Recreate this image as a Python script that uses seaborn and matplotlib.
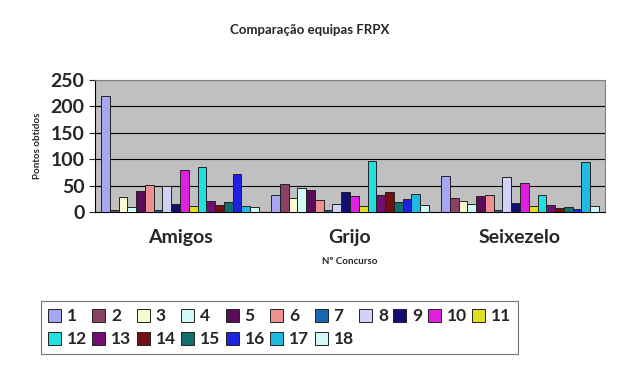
import pandas as pd
import seaborn as sns
import matplotlib.pyplot as plt

equipas = ["Amigos", "Grijo", "Seixezelo"]
concursos = [str(i) for i in range(1, 19)]

amigos = [220, 3, 28, 9, 40, 52, 3, 50, 15, 80, 12, 85, 21, 13, 18, 72, 12, 9]
grijo = [32, 53, 27, 46, 41, 23, 3, 16, 37, 30, 11, 97, 32, 37, 19, 25, 35, 13]
seixezelo = [69, 27, 20, 16, 30, 32, 4, 67, 17, 54, 11, 33, 13, 8, 9, 6, 95, 11]

cores = ["#9999FF", "#993366", "#FFFFCC", "#CCFFFF", "#660066", "#FF8080",
         "#0066CC", "#CCCCFF", "#000080", "#FF00FF", "#FFFF00", "#00FFFF",
         "#800080", "#800000", "#008080", "#0000FF", "#00CCFF", "#CCFFFF"]

rows = []
for equipa, valores in zip(equipas, [amigos, grijo, seixezelo]):
    for c, v in zip(concursos, valores):
        rows.append({"equipa": equipa, "concurso": c, "pontos": v})
df = pd.DataFrame(rows)

sns.set_style("white")
plt.rcParams["font.family"] = ["Lato", "DejaVu Sans"]

fig = plt.figure(figsize=(6.2, 3.73), dpi=100)
ax = fig.add_axes([95 / 620, 1 - 212 / 373, 510 / 620, 132 / 373])

sns.barplot(data=df, x="equipa", y="pontos", hue="concurso",
            palette=cores, width=0.93, edgecolor="#222222", linewidth=0.7,
            ax=ax, zorder=3)

ax.set_facecolor("#C0C0C0")
ax.set_ylim(0, 250)
ax.set_yticks(range(0, 251, 50))
ax.grid(axis="y", color="black", linewidth=0.8, zorder=0)
ax.set_axisbelow(True)
for s in ["top", "right"]:
    ax.spines[s].set_color("#808080")
ax.spines["left"].set_color("black")
ax.spines["bottom"].set_color("black")
ax.tick_params(axis="y", labelsize=14, length=4, left=True)
ax.tick_params(axis="x", labelsize=14, pad=12, length=0)
for lbl in ax.get_yticklabels() + ax.get_xticklabels():
    lbl.set_fontweight("bold")

ax.set_ylabel("Pontos obtidos", fontsize=7, fontweight="bold", labelpad=6)
ax.set_xlabel("Nº Concurso", fontsize=7, fontweight="bold", labelpad=8)
fig.suptitle("Comparação equipas FRPX", fontsize=9.5, fontweight="bold", y=0.935)

# legenda em linhas: 1..11 em cima, 12..18 em baixo
handles, labels = ax.get_legend_handles_labels()
ax.get_legend().remove()
ordem = []
for j in range(11):
    ordem.append(j)
    if j + 11 < len(handles):
        ordem.append(j + 11)
leg = fig.legend([handles[i] for i in ordem], [labels[i] for i in ordem],
                 ncol=11, loc="lower left",
                 bbox_to_anchor=(32 / 620, 10 / 373),
                 prop={"weight": "bold", "size": 12.5},
                 handlelength=0.75, handleheight=0.75, handletextpad=0.35,
                 columnspacing=0.3, frameon=True, fancybox=False,
                 edgecolor="#555555", borderpad=0.4, labelspacing=0.4)
leg.get_frame().set_linewidth(0.8)

fig.savefig("out.png", dpi=100)
